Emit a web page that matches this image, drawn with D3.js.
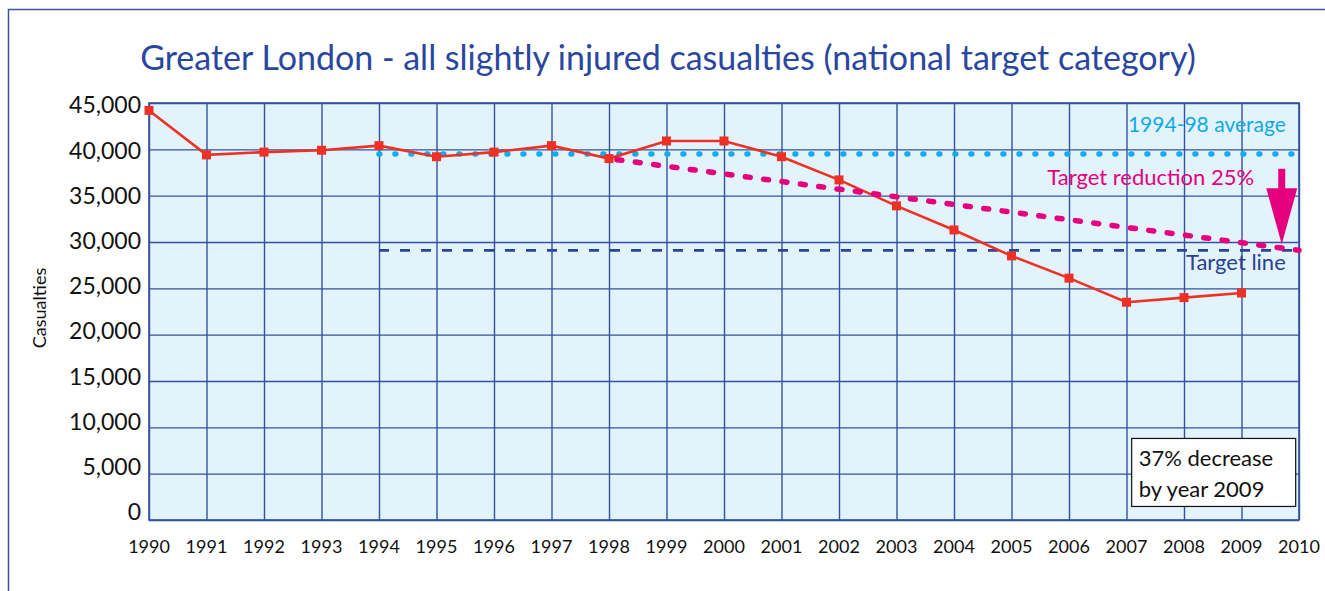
<!DOCTYPE html>
<html>
<head>
<meta charset="utf-8">
<script src="https://cdn.jsdelivr.net/npm/d3@7"></script>
<style>
  body { margin: 0; background: #fff; }
  svg { display: block; font-family: Lato, "Open Sans", sans-serif; }
</style>
</head>
<body>
<svg id="chart"></svg>
<script>
// Data
const years = d3.range(1990, 2010);
const casualties = [44200, 39400, 39700, 39900, 40400, 39200, 39700, 40400, 39000, 40900,
                    40900, 39200, 36700, 33900, 31300, 28500, 26100, 23500, 24000, 24500];
const averageYears = [1994, 2010];
const averageValue = 39500;
const targetYears = [1994, 2010];
const targetValue = 29100;
const reductionYears = [1998, 2010];
const reductionValues = [39000, 29100];
const yTicks = [0, 5000, 10000, 15000, 20000, 25000, 30000, 35000, 40000, 45000];
const xTicks = d3.range(1990, 2011);

const W = 1325, H = 591;
const margin = { top: 103, right: 26, bottom: 71, left: 149 };
const width = W - margin.left - margin.right,
      height = H - margin.top - margin.bottom;

const svg = d3.select("#chart").attr("width", W).attr("height", H);

// outer frame (runs off the right and bottom edge)
svg.append("rect")
    .attr("x", 8.5).attr("y", 9.5)
    .attr("width", W + 10).attr("height", H + 10)
    .attr("fill", "none")
    .attr("stroke", "#3a55a5")
    .attr("stroke-width", 1.5);

// title
svg.append("text")
    .attr("x", 668).attr("y", 70)
    .attr("text-anchor", "middle")
    .attr("fill", "#2a47a0")
    .style("font-size", "34px")
    .text("Greater London - all slightly injured casualties (national target category)");

const g = svg.append("g").attr("transform", `translate(${margin.left},${margin.top})`);

const x = d3.scaleLinear().domain([1990, 2010]).range([0, width]);
const y = d3.scaleLinear().domain([0, 45000]).range([height, 0]);
// labels in the original sit a little above their grid lines
const yLabel = d3.scaleLinear().domain([0, 45000]).range([height - 8, 2]);

// plot background
g.append("rect")
    .attr("width", width).attr("height", height)
    .attr("fill", "#e2f3fb");

// grid lines
const gridColor = "#3552a2";
g.append("g")
    .call(d3.axisBottom(x).tickValues(xTicks).tickSize(height).tickFormat(""))
    .call(a => a.select(".domain").remove())
    .selectAll("line").attr("stroke", gridColor).attr("stroke-width", 1.4);

g.append("g")
    .call(d3.axisLeft(y).tickValues(yTicks).tickSize(-width).tickFormat(""))
    .call(a => a.select(".domain").remove())
    .selectAll("line").attr("stroke", gridColor).attr("stroke-width", 1.4);

g.append("rect")
    .attr("width", width).attr("height", height)
    .attr("fill", "none")
    .attr("stroke", gridColor).attr("stroke-width", 1.6);

// y tick labels
g.selectAll(".ylab")
    .data(yTicks)
    .enter().append("text")
    .attr("class", "ylab")
    .attr("x", -8)
    .attr("y", d => yLabel(d))
    .attr("dy", "0.36em")
    .attr("text-anchor", "end")
    .attr("fill", "#111")
    .style("font-size", "23px")
    .text(d => d3.format(",")(d));

// x tick labels
g.selectAll(".xlab")
    .data(xTicks)
    .enter().append("text")
    .attr("class", "xlab")
    .attr("x", d => x(d))
    .attr("y", height + 33)
    .attr("text-anchor", "middle")
    .attr("fill", "#111")
    .style("font-size", "18px")
    .text(d => d);

// y axis title
svg.append("text")
    .attr("transform", "translate(46,308) rotate(-90)")
    .attr("text-anchor", "middle")
    .attr("fill", "#111")
    .style("font-size", "18px")
    .text("Casualties");

const line = d3.line().x(d => x(d[0])).y(d => y(d[1]));

// 1994-98 average (dotted)
g.append("path")
    .datum(averageYears.map(yr => [yr, averageValue]))
    .attr("d", line)
    .attr("fill", "none")
    .attr("stroke", "#0fadea")
    .attr("stroke-width", 5.5)
    .attr("stroke-linecap", "round")
    .attr("stroke-dasharray", "0.8 15.2");

// target line (dashed)
g.append("path")
    .datum(targetYears.map(yr => [yr, targetValue]))
    .attr("d", line)
    .attr("fill", "none")
    .attr("stroke", "#2a4596")
    .attr("stroke-width", 2.8)
    .attr("stroke-dasharray", "10 11");

// casualties series
const series = years.map((yr, i) => [yr, casualties[i]]);
g.append("path")
    .datum(series)
    .attr("d", line)
    .attr("fill", "none")
    .attr("stroke", "#ee3124")
    .attr("stroke-width", 2.6);

// target reduction 25% (pink dashes), drawn over the series
g.append("path")
    .datum(reductionYears.map((yr, i) => [yr, reductionValues[i]]))
    .attr("d", line)
    .attr("fill", "none")
    .attr("stroke", "#e5007d")
    .attr("stroke-width", 5.5)
    .attr("stroke-linecap", "round")
    .attr("stroke-dasharray", "5 13.5")
    .attr("stroke-dashoffset", -8);

g.selectAll(".marker")
    .data(series)
    .enter().append("rect")
    .attr("class", "marker")
    .attr("x", d => x(d[0]) - 4.5)
    .attr("y", d => y(d[1]) - 4.5)
    .attr("width", 9).attr("height", 9)
    .attr("fill", "#ee3124");

// annotations
const annoX = x(2009.77);
g.append("text")
    .attr("x", annoX).attr("y", y(41900))
    .attr("text-anchor", "end")
    .attr("fill", "#10aae2")
    .style("font-size", "21px")
    .text("1994-98 average");

g.append("text")
    .attr("x", x(2009.22)).attr("y", y(36150))
    .attr("text-anchor", "end")
    .attr("fill", "#e5007d")
    .style("font-size", "22px")
    .text("Target reduction 25%");

g.append("text")
    .attr("x", annoX).attr("y", y(26950))
    .attr("text-anchor", "end")
    .attr("fill", "#2a4190")
    .style("font-size", "22px")
    .text("Target line");

// pink arrow
const ax = x(2009.7);
g.append("rect")
    .attr("x", ax - 3.5).attr("y", y(37900))
    .attr("width", 7).attr("height", y(35500) - y(37900))
    .attr("fill", "#e5007d");
g.append("path")
    .attr("d", `M${ax - 15.5},${y(35800)} L${ax + 15.5},${y(35800)} L${ax},${y(29750)} Z`)
    .attr("fill", "#e5007d");

// note box
const box = g.append("g").attr("transform", `translate(${x(2007.09)},${y(8800)})`);
box.append("rect")
    .attr("width", 164).attr("height", 68)
    .attr("fill", "#fff")
    .attr("stroke", "#111")
    .attr("stroke-width", 1.2);
box.append("text")
    .attr("x", 7).attr("y", 28)
    .attr("fill", "#111")
    .style("font-size", "22px")
    .text("37% decrease");
box.append("text")
    .attr("x", 7).attr("y", 59)
    .attr("fill", "#111")
    .style("font-size", "22px")
    .text("by year 2009");
</script>
</body>
</html>
